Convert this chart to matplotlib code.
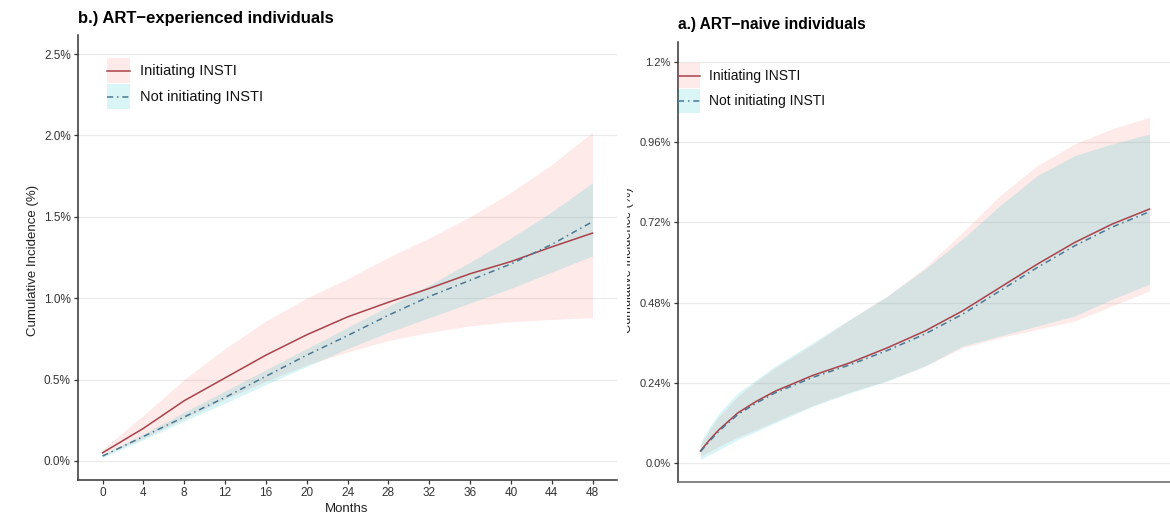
import matplotlib
matplotlib.use("Agg")
import matplotlib.pyplot as plt
from matplotlib.patches import Rectangle
from matplotlib.lines import Line2D
from matplotlib.transforms import Bbox

plt.rcParams['font.family'] = ['Liberation Sans', 'DejaVu Sans']

W, H = 1170, 519
DPI = 100

# ---- ART-experienced individuals (cumulative incidence, %) ----
months_exp = [0, 4, 8, 12, 16, 20, 24, 28, 32, 36, 40, 44, 48]
exp_init = [0.05, 0.20, 0.37, 0.51, 0.65, 0.775, 0.885, 0.975, 1.06, 1.15, 1.225, 1.315, 1.40]
exp_init_lo = [0.03, 0.14, 0.26, 0.38, 0.49, 0.59, 0.67, 0.74, 0.79, 0.83, 0.855, 0.87, 0.88]
exp_init_hi = [0.07, 0.28, 0.50, 0.69, 0.86, 1.00, 1.12, 1.25, 1.37, 1.50, 1.65, 1.82, 2.02]
exp_not = [0.03, 0.15, 0.27, 0.39, 0.52, 0.65, 0.77, 0.895, 1.01, 1.11, 1.21, 1.33, 1.47]
exp_not_lo = [0.02, 0.13, 0.245, 0.355, 0.47, 0.58, 0.69, 0.79, 0.88, 0.97, 1.06, 1.16, 1.26]
exp_not_hi = [0.04, 0.165, 0.30, 0.43, 0.56, 0.69, 0.82, 0.95, 1.08, 1.22, 1.37, 1.53, 1.71]

# ---- ART-naive individuals (cumulative incidence, %) ----
months_nai = [0, 1, 2, 4, 6, 8, 12, 16, 20, 24, 28, 32, 36, 40, 44, 48]
nai_init = [0.036, 0.07, 0.10, 0.15, 0.185, 0.215, 0.262, 0.30, 0.345, 0.395, 0.455, 0.525, 0.595, 0.66, 0.715, 0.76]
nai_init_lo = [0.02, 0.035, 0.05, 0.078, 0.10, 0.125, 0.172, 0.212, 0.247, 0.29, 0.345, 0.375, 0.40, 0.425, 0.47, 0.515]
nai_init_hi = [0.055, 0.10, 0.14, 0.20, 0.245, 0.285, 0.355, 0.43, 0.50, 0.585, 0.69, 0.80, 0.89, 0.955, 1.00, 1.035]
nai_not = [0.034, 0.066, 0.096, 0.145, 0.18, 0.21, 0.256, 0.294, 0.337, 0.386, 0.445, 0.515, 0.585, 0.65, 0.706, 0.752]
nai_not_lo = [0.01, 0.025, 0.04, 0.07, 0.095, 0.12, 0.17, 0.21, 0.245, 0.29, 0.35, 0.38, 0.41, 0.44, 0.49, 0.535]
nai_not_hi = [0.06, 0.11, 0.15, 0.21, 0.25, 0.29, 0.36, 0.43, 0.50, 0.58, 0.67, 0.77, 0.86, 0.92, 0.955, 0.985]

exp_xticks = list(range(0, 49, 4))
exp_yticks = [0.0, 0.5, 1.0, 1.5, 2.0, 2.5]
exp_ylabels = ["0.0%", "0.5%", "1.0%", "1.5%", "2.0%", "2.5%"]
nai_yticks = [0.0, 0.24, 0.48, 0.72, 0.96, 1.2]
nai_ylabels = ["0.0%", "0.24%", "0.48%", "0.72%", "0.96%", "1.2%"]

labels = ["Initiating INSTI", "Not initiating INSTI"]
title_exp = "b.) ART\u2212experienced individuals"
title_nai = "a.) ART\u2212naive individuals"
ylab = "Cumulative Incidence (%)"

RED = "#A8424A"
BLUE = "#4A7894"
PINK = "#F8766D"
CYAN = "#00BFC4"
BAND_A = 0.15
AX_COL = "#333333"
GRID = "#EBEBEB"
DASHDOT = (4, 2.5, 1, 2.5)

fig = plt.figure(figsize=(W / DPI, H / DPI), dpi=DPI)


def frac(x0, y0, x1, y1):
    return [x0 / W, 1 - y1 / H, (x1 - x0) / W, (y1 - y0) / H]


def px(x, y):
    return x / W, 1 - y / H


def style(ax, yticks, ylabels, fs):
    for s in ("top", "right"):
        ax.spines[s].set_visible(False)
    for s in ("left", "bottom"):
        ax.spines[s].set_color(AX_COL)
        ax.spines[s].set_linewidth(1.1)
    ax.set_yticks(yticks)
    ax.set_yticklabels(ylabels)
    ax.tick_params(axis="both", length=3, width=0.9, color=AX_COL,
                   labelsize=fs, labelcolor="#333333", pad=2.2)
    ax.grid(axis="y", color=GRID, lw=0.9)
    ax.set_axisbelow(True)


def panel(ax, m, lo1, hi1, y1, lo2, hi2, y2):
    ax.fill_between(m, lo1, hi1, color=PINK, alpha=BAND_A, lw=0)
    ax.fill_between(m, lo2, hi2, color=CYAN, alpha=BAND_A, lw=0)
    ax.plot(m, y1, color=RED, lw=1.1)
    ax.plot(m, y2, color=BLUE, lw=1.1, dashes=DASHDOT)


def key_legend(x0, x1, rows, text_x, fs):
    """Draw legend keys (band swatch + line) and labels at pixel positions."""
    styles = [(PINK, dict(color=RED, lw=1.1)),
              (CYAN, dict(color=BLUE, lw=1.1, dashes=DASHDOT))]
    for (top, bot, yc), label, (band, line_kw) in zip(rows, labels, styles):
        fx0, fy1 = px(x0, bot)
        fx1, fy0 = px(x1, top)
        fig.patches.append(Rectangle((fx0, fy1), fx1 - fx0, fy0 - fy1,
                                     transform=fig.transFigure, facecolor=band,
                                     alpha=BAND_A, lw=0))
        lx0, ly = px(x0, yc)
        lx1, _ = px(x1, yc)
        fig.lines.append(Line2D([lx0, lx1], [ly, ly], transform=fig.transFigure, **line_kw))
        fig.text(*px(text_x, yc), label, fontsize=fs, ha="left", va="center", color="#111111")


# ---- left panel ----
axL = fig.add_axes(frac(78, 35, 617, 480))
panel(axL, months_exp, exp_init_lo, exp_init_hi, exp_init, exp_not_lo, exp_not_hi, exp_not)
axL.set_xlim(-2.4, 50.4)
axL.set_ylim(-0.117, 2.617)
axL.set_xticks(exp_xticks)
style(axL, exp_yticks, exp_ylabels, 8.5)
key_legend(107, 130, [(58, 83, 71), (84, 109, 97)], 140, 10.5)
fig.text(*px(78, 18), title_exp, fontsize=12, fontweight="bold", ha="left", va="center")
fig.text(*px(33, 260), ylab, fontsize=9.5, rotation=90, ha="center", va="center", color="#222222")
fig.text(*px(347, 509), "Months", fontsize=9.5, ha="center", va="center", color="#222222")

# ---- right panel ----
axR = fig.add_axes(frac(678, 42, 1172, 482))
panel(axR, months_nai, nai_init_lo, nai_init_hi, nai_init, nai_not_lo, nai_not_hi, nai_not)
axR.set_xlim(-2.4, 50.4)
axR.set_ylim(-0.057, 1.26)
style(axR, nai_yticks, nai_ylabels, 8)
axR.spines["bottom"].set_color("#666666")
axR.tick_params(axis="x", bottom=False, labelbottom=False)
key_legend(678, 700, [(63, 88, 76), (89, 113, 101)], 709, 10)
fig.text(*px(678, 25), title_nai, fontsize=11.2, fontweight="bold", ha="left", va="center")
yl = fig.text(*px(628, 260), ylab, fontsize=9.2, rotation=90, ha="center", va="center",
              color="#222222", clip_on=True)
yl.set_clip_box(Bbox.from_extents(627, 0, 660, H))

fig.savefig("out.png", dpi=DPI, facecolor="white")
